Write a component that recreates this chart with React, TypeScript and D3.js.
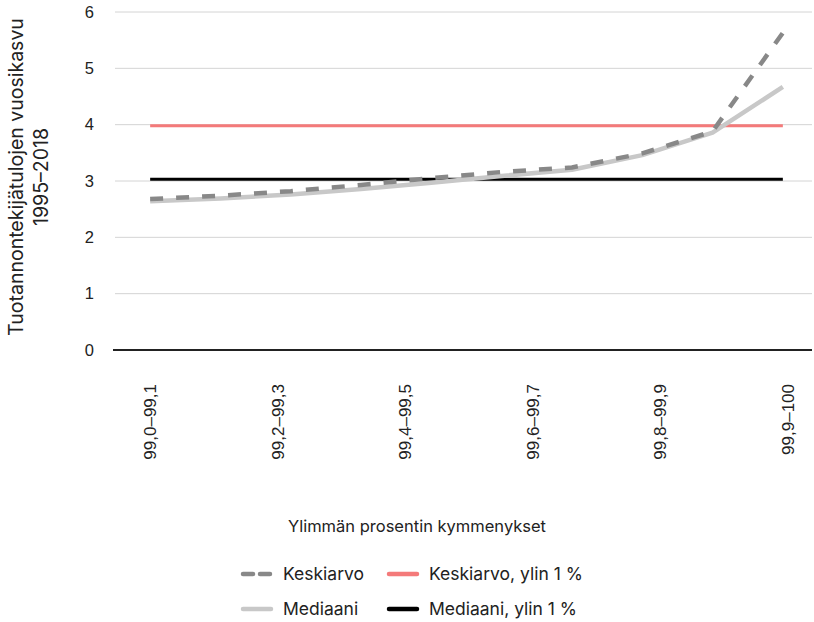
import * as d3 from "d3";

// kymmenykset (ylin prosentti)
const categories = [
  "99,0–99,1",
  "99,1–99,2",
  "99,2–99,3",
  "99,3–99,4",
  "99,4–99,5",
  "99,5–99,6",
  "99,6–99,7",
  "99,7–99,8",
  "99,8–99,9",
  "99,9–100",
];
const tickLabels = ["99,0–99,1", "99,2–99,3", "99,4–99,5", "99,6–99,7", "99,8–99,9", "99,9–100"];
const keskiarvo = [2.68, 2.74, 2.82, 2.93, 3.05, 3.16, 3.24, 3.49, 3.88, 5.63];
const mediaani = [2.64, 2.69, 2.76, 2.86, 2.97, 3.09, 3.2, 3.46, 3.86, 4.67];
const keskiarvoTop1 = 3.98;
const mediaaniTop1 = 3.03;
const yTicks = [0, 1, 2, 3, 4, 5, 6];

const W = 814;
const H = 622;
const left = 115;
const right = 812;
const top = 12;
const bottom = 350;

const tickFont = "'Liberation Sans', Arial, sans-serif";
const textFont = "Inter, 'Noto Sans', sans-serif";

export default function App() {
  const x = d3.scalePoint<string>().domain(categories).range([left, 818]).padding(0.5);
  const xLab = d3.scalePoint<string>().domain(tickLabels).range([150, 788]);
  const y = d3.scaleLinear().domain([0, 6]).range([bottom, top]);

  const line = d3
    .line<number>()
    .x((_, i) => x(categories[i])!)
    .y((d) => y(d));

  const x0 = x(categories[0])!;
  const x1 = x(categories[categories.length - 1])!;

  const legend = [
    { label: "Keskiarvo", color: "#888888", dash: "10 7", lx: 243, ly: 574 },
    { label: "Keskiarvo, ylin 1 %", color: "#f47a7a", dash: null, lx: 389, ly: 574 },
    { label: "Mediaani", color: "#c8c8c8", dash: null, lx: 243, ly: 609 },
    { label: "Mediaani, ylin 1 %", color: "#000000", dash: null, lx: 389, ly: 609 },
  ];

  return (
    <svg
      width={W}
      height={H}
      style={{ position: "absolute", left: 0, top: 0, background: "#fff" }}
    >
      {/* gridlines */}
      {yTicks.slice(1).map((t) => (
        <line key={t} x1={left} x2={right} y1={y(t)} y2={y(t)} stroke="#d4d4d4" strokeWidth={1} />
      ))}
      {yTicks.map((t) => (
        <text
          key={"yl" + t}
          x={94}
          y={y(t)}
          dy="0.35em"
          textAnchor="end"
          fontFamily={tickFont}
          fontSize={16.5}
          fill="#222"
        >
          {t}
        </text>
      ))}
      {/* x axis */}
      <line x1={113} x2={right} y1={bottom} y2={bottom} stroke="#222" strokeWidth={2} />
      {tickLabels.map((t) => (
        <text
          key={t}
          transform={`translate(${xLab(t)},384) rotate(-90)`}
          dy="0.35em"
          textAnchor="end"
          fontFamily={tickFont}
          fontSize={17}
          fill="#222"
        >
          {t}
        </text>
      ))}

      {/* reference lines */}
      <line x1={x0} x2={x1} y1={y(keskiarvoTop1)} y2={y(keskiarvoTop1)} stroke="#f47a7a" strokeWidth={3} />
      <line x1={x0} x2={x1} y1={y(mediaaniTop1)} y2={y(mediaaniTop1)} stroke="#000" strokeWidth={3} />

      {/* series */}
      <path d={line(mediaani)!} fill="none" stroke="#c8c8c8" strokeWidth={4.5} strokeLinejoin="round" />
      <path d={line(keskiarvo)!} fill="none" stroke="#888888" strokeWidth={4.5} strokeDasharray="13 13" />

      {/* y title */}
      <text
        transform={`translate(23,177) rotate(-90)`}
        textAnchor="middle"
        fontFamily={textFont}
        fontSize={19.5}
        fill="#222"
      >
        <tspan x={0} dy="0">Tuotannontekijätulojen vuosikasvu</tspan>
        <tspan x={0} dy="25">1995–2018</tspan>
      </text>

      {/* x title */}
      <text
        x={417}
        y={526}
        dy="0.35em"
        textAnchor="middle"
        fontFamily={textFont}
        fontSize={16.5}
        fill="#222"
      >
        Ylimmän prosentin kymmenykset
      </text>

      {/* legend */}
      {legend.map((l) => (
        <g key={l.label} transform={`translate(${l.lx},${l.ly})`}>
          <line
            x1={0}
            x2={28}
            y1={0}
            y2={0}
            stroke={l.color}
            strokeWidth={4.5}
            strokeLinecap="round"
            strokeDasharray={l.dash ?? undefined}
          />
          <text x={40} dy="0.35em" fontFamily={textFont} fontSize={17.5} fill="#222">
            {l.label}
          </text>
        </g>
      ))}
    </svg>
  );
}
